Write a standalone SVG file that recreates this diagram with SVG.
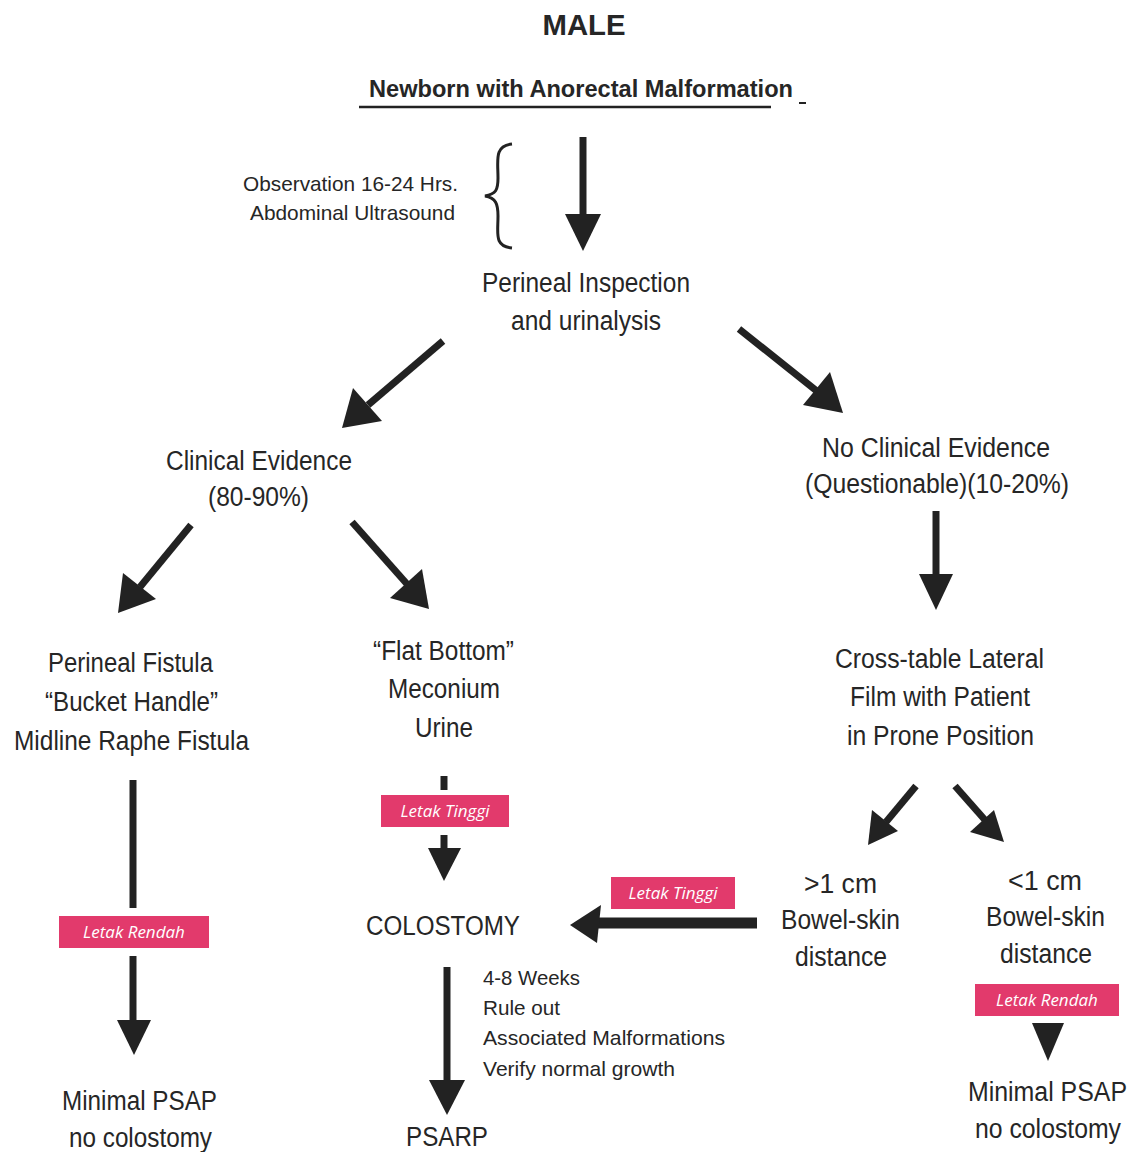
<svg xmlns="http://www.w3.org/2000/svg" width="1141" height="1152" viewBox="0 0 1141 1152">
<defs>
<style>
.t{font-family:"Liberation Sans",Arial,sans-serif;fill:#262626;}
.s26{font-size:27px;}
.s24{font-size:24px;}
.s21{font-size:21px;}
.tag rect{fill:#E23A6C;}
.tag text{font-family:"Open Sans","Liberation Sans",sans-serif;font-style:italic;font-size:17px;fill:#ffffff;text-anchor:middle;}
.ln{stroke:#222;stroke-width:7;fill:none;}
.hd{fill:#222;}
</style>
</defs>
<rect width="1141" height="1152" fill="#ffffff"/>

<g id="connectors">
  <line class="ln" x1="583" y1="137" x2="583" y2="218"/>
  <polygon class="hd" points="565,214 601,214 583,251"/>
  <line class="ln" x1="443" y1="341" x2="368" y2="405"/>
  <polygon class="hd" points="342,428 353,388 382,421"/>
  <line class="ln" x1="739" y1="329" x2="818" y2="392"/>
  <polygon class="hd" points="843,413 803,405 830,372"/>
  <line class="ln" x1="191" y1="525" x2="140" y2="587"/>
  <polygon class="hd" points="118,613 123,573 156,599"/>
  <line class="ln" x1="352" y1="522" x2="407" y2="584"/>
  <polygon class="hd" points="429,609 390,598 422,569"/>
  <line class="ln" x1="936" y1="511" x2="936" y2="578"/>
  <polygon class="hd" points="919,574 953,574 936,610"/>
  <line class="ln" x1="133" y1="780" x2="133" y2="908"/>
  <line class="ln" x1="133" y1="956" x2="133" y2="1024"/>
  <polygon class="hd" points="117,1020 151,1020 134,1055"/>
  <line class="ln" x1="444" y1="776" x2="444" y2="790"/>
  <line class="ln" x1="444" y1="835" x2="444" y2="852"/>
  <polygon class="hd" points="428,848 461,848 444,881"/>
  <line x1="757" y1="923" x2="595" y2="923" stroke="#222" stroke-width="11"/>
  <polygon class="hd" points="570,925 601,905 597,943"/>
  <line class="ln" x1="447" y1="967" x2="447" y2="1082"/>
  <polygon class="hd" points="429,1080 465,1080 447,1115"/>
  <line class="ln" x1="916" y1="786" x2="886" y2="822"/>
  <polygon class="hd" points="868,845 872,810 898,831"/>
  <line class="ln" x1="955" y1="786" x2="985" y2="820"/>
  <polygon class="hd" points="1004,842 970,832 994,810"/>
  <polygon class="hd" points="1032,1023 1064,1023 1048,1061"/>
</g>

<g id="title">
  <text class="t" x="584" y="35" font-size="30" font-weight="bold" text-anchor="middle" textLength="83" lengthAdjust="spacingAndGlyphs">MALE</text>
</g>

<g id="newborn">
  <text class="t s24" x="369" y="97" textLength="424" lengthAdjust="spacingAndGlyphs" font-weight="bold">Newborn with Anorectal Malformation</text>
  <line x1="359" y1="107" x2="771" y2="107" stroke="#222" stroke-width="2.5"/>
  <line x1="799" y1="103" x2="806" y2="103" stroke="#222" stroke-width="2"/>
</g>

<g id="observation">
  <text class="t s21" x="243" y="191" textLength="215" lengthAdjust="spacingAndGlyphs">Observation 16-24 Hrs.</text>
  <text class="t s21" x="250" y="220" textLength="205" lengthAdjust="spacingAndGlyphs">Abdominal Ultrasound</text>
  <path d="M512,144 C494,146 498,160 498,178 C498,190 496,194 485,196 C496,198 498,204 498,216 C498,234 494,246 512,248" fill="none" stroke="#222" stroke-width="3"/>
</g>

<g id="perineal-inspection">
  <text class="t s26" x="482" y="292" textLength="208" lengthAdjust="spacingAndGlyphs">Perineal Inspection</text>
  <text class="t s26" x="511" y="330" textLength="150" lengthAdjust="spacingAndGlyphs">and urinalysis</text>
</g>

<g id="clinical-evidence">
  <text class="t s26" x="166" y="470" textLength="186" lengthAdjust="spacingAndGlyphs">Clinical Evidence</text>
  <text class="t s26" x="208" y="506" textLength="101" lengthAdjust="spacingAndGlyphs">(80-90%)</text>
</g>

<g id="no-clinical-evidence">
  <text class="t s26" x="822" y="457" textLength="228" lengthAdjust="spacingAndGlyphs">No Clinical Evidence</text>
  <text class="t s26" x="805" y="493" textLength="264" lengthAdjust="spacingAndGlyphs">(Questionable)(10-20%)</text>
</g>

<g id="perineal-fistula">
  <text class="t s26" x="48" y="672" textLength="165" lengthAdjust="spacingAndGlyphs">Perineal Fistula</text>
  <text class="t s26" x="45" y="711" textLength="173" lengthAdjust="spacingAndGlyphs">“Bucket Handle”</text>
  <text class="t s26" x="14" y="750" textLength="235" lengthAdjust="spacingAndGlyphs">Midline Raphe Fistula</text>
</g>

<g id="flat-bottom">
  <text class="t s26" x="373" y="660" textLength="141" lengthAdjust="spacingAndGlyphs">“Flat Bottom”</text>
  <text class="t s26" x="388" y="698" textLength="112" lengthAdjust="spacingAndGlyphs">Meconium</text>
  <text class="t s26" x="415" y="737" textLength="58" lengthAdjust="spacingAndGlyphs">Urine</text>
</g>

<g id="cross-table">
  <text class="t s26" x="835" y="668" textLength="209" lengthAdjust="spacingAndGlyphs">Cross-table Lateral</text>
  <text class="t s26" x="850" y="706" textLength="180" lengthAdjust="spacingAndGlyphs">Film with Patient</text>
  <text class="t s26" x="847" y="745" textLength="187" lengthAdjust="spacingAndGlyphs">in Prone Position</text>
</g>

<g id="colostomy">
  <text class="t s26" x="366" y="935" textLength="154" lengthAdjust="spacingAndGlyphs">COLOSTOMY</text>
</g>

<g id="more-than-1cm">
  <text class="t s26" x="804" y="893" textLength="73" lengthAdjust="spacingAndGlyphs">&gt;1 cm</text>
  <text class="t s26" x="781" y="929" textLength="119" lengthAdjust="spacingAndGlyphs">Bowel-skin</text>
  <text class="t s26" x="795" y="966" textLength="92" lengthAdjust="spacingAndGlyphs">distance</text>
</g>

<g id="less-than-1cm">
  <text class="t s26" x="1008" y="890" textLength="74" lengthAdjust="spacingAndGlyphs">&lt;1 cm</text>
  <text class="t s26" x="986" y="926" textLength="119" lengthAdjust="spacingAndGlyphs">Bowel-skin</text>
  <text class="t s26" x="1000" y="963" textLength="92" lengthAdjust="spacingAndGlyphs">distance</text>
</g>

<g id="weeks-note">
  <text class="t s21" x="483" y="985" textLength="97" lengthAdjust="spacingAndGlyphs">4-8 Weeks</text>
  <text class="t s21" x="483" y="1015" textLength="77" lengthAdjust="spacingAndGlyphs">Rule out</text>
  <text class="t s21" x="483" y="1045" textLength="242" lengthAdjust="spacingAndGlyphs">Associated Malformations</text>
  <text class="t s21" x="483" y="1076" textLength="192" lengthAdjust="spacingAndGlyphs">Verify normal growth</text>
</g>

<g id="psarp">
  <text class="t s26" x="406" y="1146" textLength="82" lengthAdjust="spacingAndGlyphs">PSARP</text>
</g>

<g id="minimal-psap-left">
  <text class="t s26" x="62" y="1110" textLength="155" lengthAdjust="spacingAndGlyphs">Minimal PSAP</text>
  <text class="t s26" x="69" y="1147" textLength="143" lengthAdjust="spacingAndGlyphs">no colostomy</text>
</g>

<g id="minimal-psap-right">
  <text class="t s26" x="968" y="1101" textLength="159" lengthAdjust="spacingAndGlyphs">Minimal PSAP</text>
  <text class="t s26" x="975" y="1138" textLength="146" lengthAdjust="spacingAndGlyphs">no colostomy</text>
</g>

<g id="tag-rendah-left" class="tag">
  <rect x="59" y="916" width="150" height="32"/>
  <text x="134" y="938">Letak Rendah</text>
</g>
<g id="tag-tinggi-mid" class="tag">
  <rect x="381" y="795" width="128" height="32"/>
  <text x="445" y="817">Letak Tinggi</text>
</g>
<g id="tag-tinggi-right" class="tag">
  <rect x="611" y="877" width="124" height="32"/>
  <text x="673" y="899">Letak Tinggi</text>
</g>
<g id="tag-rendah-right" class="tag">
  <rect x="975" y="984" width="144" height="32"/>
  <text x="1047" y="1006">Letak Rendah</text>
</g>
</svg>
